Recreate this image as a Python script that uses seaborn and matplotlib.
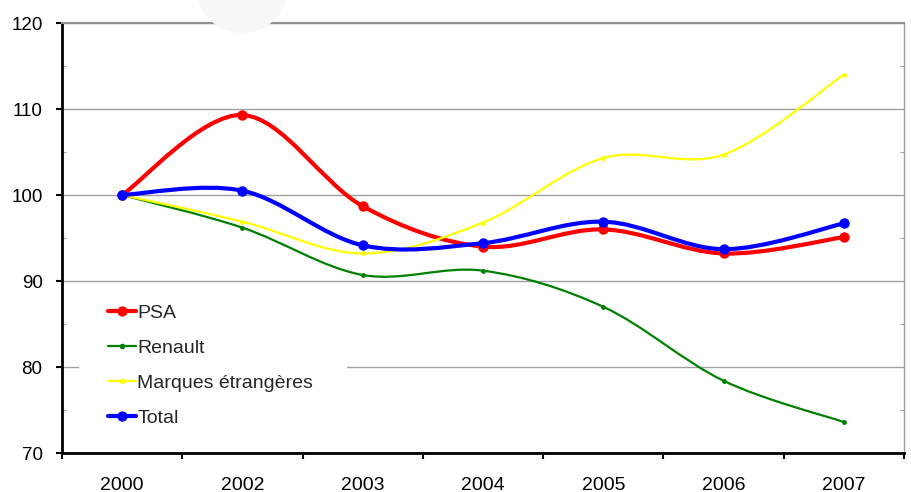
import numpy as np
import pandas as pd
import matplotlib
matplotlib.use("Agg")
import matplotlib.pyplot as plt
import seaborn as sns
from matplotlib.path import Path
from matplotlib.patches import PathPatch, Ellipse, Rectangle
from matplotlib.lines import Line2D

years = ["2000", "2002", "2003", "2004", "2005", "2006", "2007"]
psa = [100.0, 109.3, 98.7, 94.0, 96.0, 93.2, 95.1]
renault = [100.0, 96.2, 90.7, 91.2, 87.0, 78.4, 73.6]
marques = [100.0, 96.9, 93.2, 96.8, 104.3, 104.7, 114.0]
total = [100.0, 100.5, 94.15, 94.4, 96.9, 93.7, 96.7]

series_names = ["PSA", "Renault", "Marques étrangères", "Total"]
colors = ["#FF0000", "#008000", "#FFFF00", "#0000FF"]
widths = [3.0, 1.6, 1.6, 3.0]
msizes = [7.5, 3.5, 3.5, 7.5]

df = pd.DataFrame({
    "year": years * 4,
    "idx": list(range(len(years))) * 4,
    "value": psa + renault + marques + total,
    "serie": sum([[n] * len(years) for n in series_names], []),
})

sns.set_theme(style="white")
plt.rcParams["font.family"] = ["Liberation Sans", "DejaVu Sans"]

fig = plt.figure(figsize=(9.11, 4.92), dpi=100)
ax = fig.add_axes([62 / 911, 39 / 492, 842 / 911, 430 / 492])

# faint watermark shape
fig.patches.append(Ellipse((242 / 911, 1.0 + 13.5 / 492), 93 / 911, 93 / 492,
                           transform=fig.transFigure, facecolor="#f8f8f8",
                           edgecolor="none", zorder=0))


def smooth_path(xs, ys):
    pts = list(zip(xs, ys))
    n = len(pts)
    verts = [pts[0]]
    codes = [Path.MOVETO]
    for i in range(n - 1):
        p0 = pts[i - 1] if i > 0 else pts[i]
        p1 = pts[i]
        p2 = pts[i + 1]
        p3 = pts[i + 2] if i + 2 < n else pts[i + 1]
        c1 = (p1[0] + (p2[0] - p0[0]) / 6, p1[1] + (p2[1] - p0[1]) / 6)
        c2 = (p2[0] - (p3[0] - p1[0]) / 6, p2[1] - (p3[1] - p1[1]) / 6)
        verts += [c1, c2, p2]
        codes += [Path.CURVE4] * 3
    return Path(verts, codes)


order = [1, 2, 0, 3]
for k in order:
    name = series_names[k]
    sub = df[df["serie"] == name]
    ax.add_patch(PathPatch(smooth_path(sub["idx"].tolist(), sub["value"].tolist()),
                           facecolor="none", edgecolor=colors[k], lw=widths[k],
                           zorder=3 + k, capstyle="round", joinstyle="round"))
    sns.scatterplot(data=sub, x="idx", y="value", color=colors[k], s=msizes[k] ** 2,
                    edgecolor=colors[k], linewidth=0, ax=ax, legend=False, zorder=4 + k)

ax.set_xlim(-0.5, 6.5)
ax.set_ylim(70, 120)
ax.set_xlabel("")
ax.set_ylabel("")

ax.set_xticks(np.arange(-0.5, 7, 1))
ax.set_xticklabels([])
ax.set_xticks(range(len(years)), minor=True)
ax.set_xticklabels(years, minor=True)
ax.tick_params(axis="x", which="major", bottom=True, direction="out", length=4.5, width=1.5, color="black")
ax.tick_params(axis="x", which="minor", bottom=True, length=0, pad=17, labelsize=14, labelcolor="black")

ax.set_yticks(np.arange(70, 121, 10))
ax.set_yticks(np.arange(75, 120, 10), minor=True)
ax.tick_params(axis="y", which="major", left=True, direction="out", length=4.5, width=1.5,
               color="black", labelsize=13.5, pad=9.5, labelcolor="black")
ax.tick_params(axis="y", which="minor", left=True, right=True, direction="in", length=3,
               width=0.8, color="#a0a0a0")

ax.grid(axis="y", which="major", color="#a0a0a0", lw=1.0, zorder=0)
ax.set_axisbelow(True)

for s in ["left", "bottom"]:
    ax.spines[s].set_color("black")
    ax.spines[s].set_linewidth(2.0)
ax.spines["top"].set_color("#909090")
ax.spines["top"].set_linewidth(1.5)
ax.spines["right"].set_color("#a0a0a0")
ax.spines["right"].set_linewidth(1.0)

# white legend background box (masks the grid)
ax.add_patch(Rectangle(((79 - 62) / 842, (453 - 440) / 430), (347 - 79) / 842, 150 / 430,
                       transform=ax.transAxes, facecolor="white", edgecolor="none", zorder=1))

handles = [Line2D([], [], color=colors[k], lw=widths[k], marker="o", markersize=msizes[k] * 0.85)
           for k in range(4)]
leg = ax.legend(handles, series_names, loc="upper left",
                bbox_to_anchor=((108 - 62) / 842, (453 - 304) / 430),
                frameon=False, fontsize=14, handlelength=1.45, handletextpad=0.05,
                labelspacing=0.9, borderpad=0, borderaxespad=0)
leg.set_zorder(10)

fig.savefig("out.png", dpi=100, facecolor="white")
